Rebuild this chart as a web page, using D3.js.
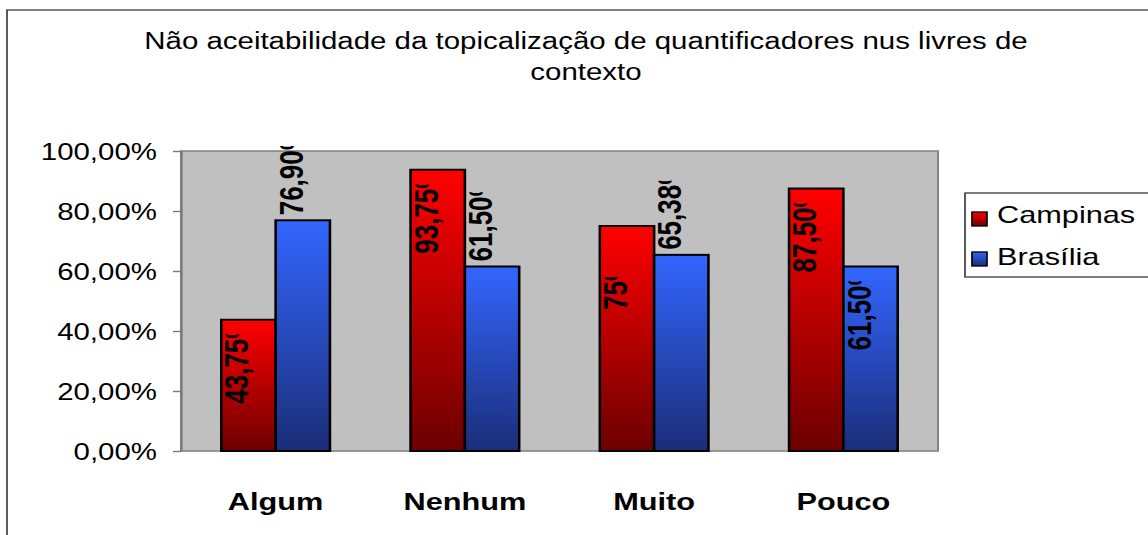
<!DOCTYPE html>
<html>
<head>
<meta charset="utf-8">
<script src="https://cdn.jsdelivr.net/npm/d3@7"></script>
<style>
  html, body { margin: 0; padding: 0; background: #fff; }
  svg { display: block; }
  text { font-family: "Liberation Sans", Arial, sans-serif; }
</style>
</head>
<body>
<div id="chart"></div>
<script>
var categories = ["Algum", "Nenhum", "Muito", "Pouco"];
var seriesNames = ["Campinas", "Brasília"];
var campinas = [43.75, 93.75, 75, 87.5];
var brasilia = [76.9, 61.5, 65.38, 61.5];
var campinasLabels = ["43,75%", "93,75%", "75%", "87,50%"];
var brasiliaLabels = ["76,90%", "61,50%", "65,38%", "61,50%"];
// Excel put most Brasília labels above the bar, only Pouco inside
var campinasInside = [true, true, true, true];
var brasiliaInside = [false, false, false, true];
var yTicks = [0, 20, 40, 60, 80, 100];
var titleLines = ["Não aceitabilidade da topicalização de quantificadores nus livres de", "contexto"];

// the original picture is stretched sideways, so draw in a narrower space and stretch it
var W = 1148, H = 535, sx = 1.28;
var iw = W / sx;

var svg = d3.select("#chart").append("svg")
    .attr("width", W).attr("height", H)
    .attr("viewBox", "0 0 " + iw + " " + H)
    .attr("preserveAspectRatio", "none");

var defs = svg.append("defs");
function grad(id, top, bottom) {
  var g = defs.append("linearGradient").attr("id", id)
      .attr("x1", 0).attr("y1", 0).attr("x2", 0).attr("y2", 1);
  g.append("stop").attr("offset", "0%").attr("stop-color", top);
  g.append("stop").attr("offset", "100%").attr("stop-color", bottom);
}
grad("gRed", "#ff0000", "#6c0000");
grad("gBlue", "#3366ff", "#1a2d78");
var fills = ["url(#gRed)", "url(#gBlue)"];

// outer frame
svg.append("rect")
    .attr("x", 7 / sx).attr("y", 10)
    .attr("width", iw + 20).attr("height", H + 20)
    .attr("fill", "none").attr("stroke", "#3a3a3a").attr("stroke-width", 1.3);

// title
svg.selectAll("text.title").data(titleLines).enter().append("text")
    .attr("class", "title")
    .attr("x", 586 / sx).attr("y", function(d, i) { return 49 + i * 31; })
    .attr("text-anchor", "middle")
    .attr("font-size", 23)
    .text(function(d) { return d; });

var plot = { left: 181 / sx, right: 938 / sx, top: 151, bottom: 451 };

var y = d3.scaleLinear().domain([0, 100]).range([plot.bottom, plot.top]);
var x0 = d3.scaleBand().domain(categories).range([plot.left, plot.right]);
var bw = x0.bandwidth();
var x1 = d3.scaleBand().domain(seriesNames).range([bw * 0.213, bw * 0.787]);

svg.append("rect")
    .attr("x", plot.left).attr("y", plot.top)
    .attr("width", plot.right - plot.left).attr("height", plot.bottom - plot.top)
    .attr("fill", "#c0c0c0").attr("stroke", "#858585").attr("stroke-width", 1.6);

var yAxis = svg.append("g")
    .attr("transform", "translate(" + plot.left + ",0)")
    .call(d3.axisLeft(y).tickValues(yTicks).tickSize(6.3).tickSizeOuter(0).tickPadding(12.5)
      .tickFormat(function(d) { return d.toFixed(2).replace(".", ",") + "%"; }));
yAxis.select(".domain").attr("stroke", "#7a7a7a").attr("stroke-width", 1.6);
yAxis.selectAll(".tick line").attr("stroke", "#7a7a7a").attr("stroke-width", 1.4);
yAxis.selectAll(".tick text")
    .attr("font-family", "'Liberation Sans', Arial, sans-serif")
    .attr("font-size", 23).attr("fill", "#000").attr("dy", "0.36em");

// category labels
svg.selectAll("text.cat").data(categories).enter().append("text")
    .attr("class", "cat")
    .attr("x", function(d) { return x0(d) + bw / 2; })
    .attr("y", 510)
    .attr("text-anchor", "middle")
    .attr("font-size", 24).attr("font-weight", "bold")
    .text(function(d) { return d; });

var rows = categories.map(function(c, i) {
  return [
    { cat: c, s: 0, v: campinas[i], label: campinasLabels[i], inside: campinasInside[i] },
    { cat: c, s: 1, v: brasilia[i], label: brasiliaLabels[i], inside: brasiliaInside[i] }
  ];
});
var flat = [].concat.apply([], rows);

svg.append("g").selectAll("rect").data(flat).enter().append("rect")
    .attr("x", function(d) { return x0(d.cat) + x1(seriesNames[d.s]); })
    .attr("y", function(d) { return y(d.v); })
    .attr("width", x1.bandwidth())
    .attr("height", function(d) { return y(0) - y(d.v); })
    .attr("fill", function(d) { return fills[d.s]; })
    .attr("stroke", "#000").attr("stroke-width", 2);

// value labels, rotated, with the "%" partly cut like the original
var labs = svg.append("g").selectAll("g").data(flat).enter().append("g")
    .attr("transform", function(d) {
      var cx = x0(d.cat) + x1(seriesNames[d.s]) + x1.bandwidth() / 2;
      var yy = d.inside ? y(d.v) + 84 : y(d.v) - 5;
      return "translate(" + cx + "," + yy + ") rotate(-90)";
    });
labs.append("text")
    .attr("x", 0).attr("y", 0)
    .attr("font-size", 26).attr("font-weight", "bold")
    .attr("fill", "#000")
    .text(function(d) { return d.label; });
labs.each(function(d, i) {
  var g = d3.select(this);
  var len = g.select("text").node().getComputedTextLength();
  defs.append("clipPath").attr("id", "lc" + i)
    .append("rect").attr("x", -2).attr("y", -30).attr("width", len - 17).attr("height", 40);
  g.attr("clip-path", "url(#lc" + i + ")");
});

// legend
var lg = svg.append("g");
lg.append("rect")
    .attr("x", 965 / sx).attr("y", 193)
    .attr("width", 200).attr("height", 84)
    .attr("fill", "#fff").attr("stroke", "#3a3a3a").attr("stroke-width", 1.3);
var items = lg.selectAll("g").data(seriesNames).enter().append("g")
    .attr("transform", function(d, i) { return "translate(" + (972 / sx) + "," + (212 + i * 40) + ")"; });
items.append("rect")
    .attr("width", 15 / sx).attr("height", 14)
    .attr("fill", function(d, i) { return fills[i]; })
    .attr("stroke", "#000").attr("stroke-width", 1.3);
items.append("text")
    .attr("x", 25 / sx).attr("y", function(d, i) { return 11 + i * 2; })
    .attr("font-size", 24)
    .text(function(d) { return d; });
</script>
</body>
</html>
